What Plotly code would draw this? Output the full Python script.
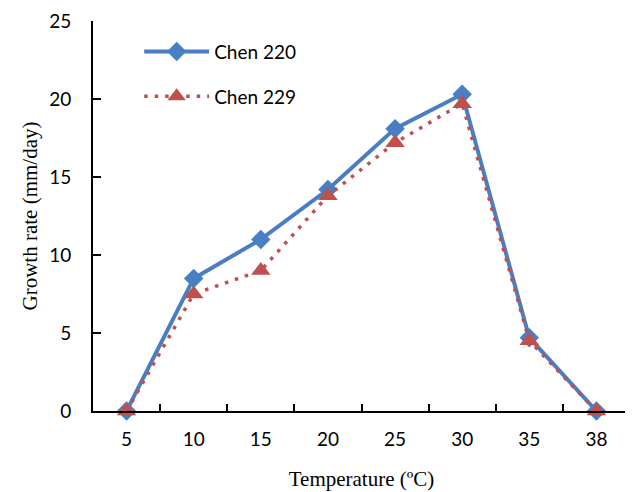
import plotly.graph_objects as go

temps = ["5", "10", "15", "20", "25", "30", "35", "38"]
chen220 = [0, 8.5, 11.0, 14.2, 18.1, 20.3, 4.7, 0]
chen229 = [0, 7.5, 9.0, 13.8, 17.2, 19.7, 4.5, 0]
y_ticks = [0, 5, 10, 15, 20, 25]

fig = go.Figure()
fig.add_trace(go.Scatter(
    x=temps, y=chen220, name="Chen 220", mode="lines+markers",
    line=dict(color="#4A7EC2", width=4),
    marker=dict(symbol="diamond", size=15, color="#4A7EC2"),
    cliponaxis=False, legendgroup="a",
))
fig.add_trace(go.Scatter(
    x=temps, y=chen229, name="Chen 229", mode="lines+markers",
    line=dict(color="#C0504D", width=3.5, dash="3.5px,7px"),
    marker=dict(symbol="triangle-up", size=17, color="#C0504D"),
    cliponaxis=False, legendgroup="b",
))

fig.update_layout(
    width=625, height=484,
    margin=dict(l=85, r=3, t=13, b=81, autoexpand=False),
    paper_bgcolor="white", plot_bgcolor="white",
    font=dict(family="Lato", size=19, color="black"),
    showlegend=True,
    legend=dict(x=0.086, y=0.97, xanchor="left", yanchor="top",
                bgcolor="rgba(0,0,0,0)", font=dict(family="Lato", size=19),
                itemwidth=65, tracegroupgap=17),
    xaxis=dict(
        type="category", range=[-0.5, 7.5], automargin=False,
        showline=True, linecolor="black", linewidth=2,
        ticks="inside", ticklen=7, tickwidth=2, tickcolor="black",
        tickson="boundaries", showgrid=False, zeroline=False,
        ticklabelstandoff=10,
        title=dict(text="Temperature (ºC)", font=dict(family="Liberation Serif", size=21), standoff=23),
    ),
    yaxis=dict(
        range=[0, 25], tickvals=y_ticks, automargin=False,
        showline=True, linecolor="black", linewidth=2,
        ticks="inside", ticklen=8, tickwidth=2, tickcolor="black",
        showgrid=False, zeroline=False, ticklabelstandoff=16,
        title=dict(text="Growth rate (mm/day)", font=dict(family="Liberation Serif", size=21), standoff=6),
    ),
)

fig.write_html("out.html")
